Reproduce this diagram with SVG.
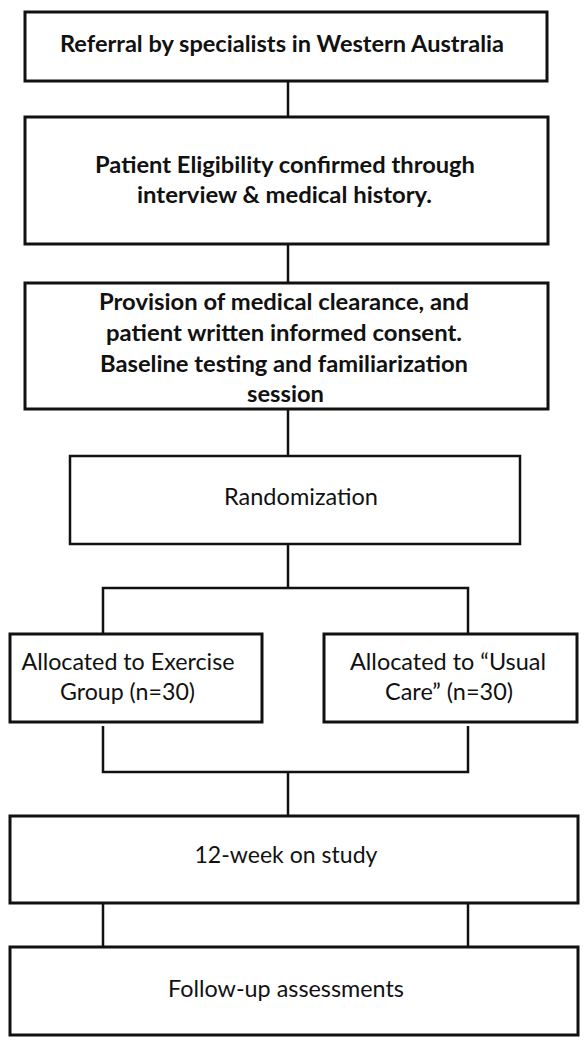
<svg xmlns="http://www.w3.org/2000/svg" width="585" height="1043" viewBox="0 0 585 1043">
<style>
.box{fill:#fff;stroke:#111;stroke-width:3}
.thin{stroke-width:2.5}
.con{fill:none;stroke:#111;stroke-width:2.5}
text{font-family:Lato,"Liberation Sans",sans-serif;font-size:22.5px;fill:#111;text-anchor:middle}
.b{font-weight:bold}
</style>
<rect width="585" height="1043" fill="#fff"/>
<g id="connectors">
<path class="con" d="M288 81V117M288 244V283M288 409V456M288 544V588M103 634V588H468V634M103 726V772H468V726M288 772V816M103 903V947M468 903V947"/>
</g>
<g id="n1">
<rect class="box" x="25" y="12" width="522" height="69"/>
<text class="b" x="282" y="52" textLength="444" lengthAdjust="spacingAndGlyphs">Referral by specialists in Western Australia</text>
</g>
<g id="n2">
<rect class="box" x="25" y="117" width="523" height="127"/>
<text class="b" x="285" y="173" textLength="380" lengthAdjust="spacingAndGlyphs">Patient Eligibility confirmed through</text>
<text class="b" x="284.5" y="203" textLength="295" lengthAdjust="spacingAndGlyphs">interview &amp; medical history.</text>
</g>
<g id="n3">
<rect class="box" x="25" y="283" width="523" height="126"/>
<text class="b" x="284" y="310" textLength="370" lengthAdjust="spacingAndGlyphs">Provision of medical clearance, and</text>
<text class="b" x="284" y="341" textLength="356" lengthAdjust="spacingAndGlyphs">patient written informed consent.</text>
<text class="b" x="284" y="372" textLength="368" lengthAdjust="spacingAndGlyphs">Baseline testing and familiarization</text>
<text class="b" x="285.5" y="402" textLength="77" lengthAdjust="spacingAndGlyphs">session</text>
</g>
<g id="n4">
<rect class="box thin" x="70" y="456" width="450" height="88"/>
<text x="301" y="505" textLength="154" lengthAdjust="spacingAndGlyphs">Randomization</text>
</g>
<g id="n5">
<rect class="box" x="10" y="634" width="252" height="88"/>
<text x="128" y="670" textLength="213" lengthAdjust="spacingAndGlyphs">Allocated to Exercise</text>
<text x="127.5" y="700" textLength="135" lengthAdjust="spacingAndGlyphs">Group (n=30)</text>
</g>
<g id="n6">
<rect class="box" x="324" y="634" width="253" height="88"/>
<text x="448" y="670" textLength="196" lengthAdjust="spacingAndGlyphs">Allocated to “Usual</text>
<text x="449" y="700" textLength="128" lengthAdjust="spacingAndGlyphs">Care” (n=30)</text>
</g>
<g id="n7">
<rect class="box" x="10" y="816" width="568" height="87"/>
<text x="286" y="863" textLength="183" lengthAdjust="spacingAndGlyphs">12-week on study</text>
</g>
<g id="n8">
<rect class="box" x="10" y="947" width="568" height="88"/>
<text x="286" y="997" textLength="236" lengthAdjust="spacingAndGlyphs">Follow-up assessments</text>
</g>
</svg>
